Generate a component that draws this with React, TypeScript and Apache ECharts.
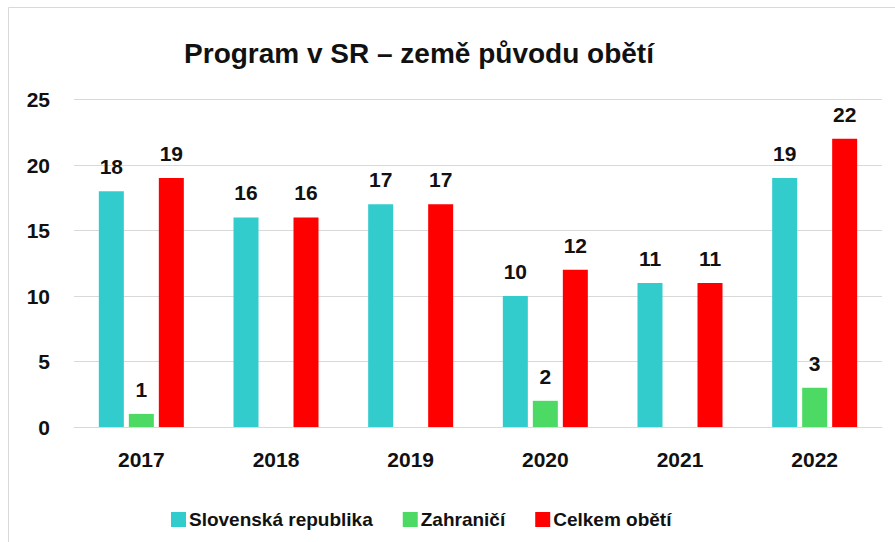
import React, { useEffect, useRef } from "react";
import * as echarts from "echarts";

const categories = ["2017", "2018", "2019", "2020", "2021", "2022"];
const slovenska = [18, 16, 17, 10, 11, 19];
const zahranici = [1, 0, 0, 2, 0, 3];
const celkem = [19, 16, 17, 12, 11, 22];
const seriesNames = ["Slovenská republika", "Zahraničí", "Celkem obětí"];
const colors = ["#33CCCC", "#4CD964", "#FF0000"];
const titleText = "Program v SR – země původu obětí";

const FONT = "'Liberation Sans', Arial, sans-serif";

export default function App() {
  const ref = useRef<HTMLDivElement>(null);
  useEffect(() => {
    if (!ref.current) return;
    const chart = echarts.init(ref.current, null, { renderer: "svg" });
    const label = {
      show: true,
      position: "top",
      distance: 14,
      fontFamily: FONT,
      fontWeight: "bold",
      fontSize: 21,
      color: "#111",
      formatter: (p: any) => (p.value === 0 ? "" : String(p.value)),
    };
    const datasets = [slovenska, zahranici, celkem];
    chart.setOption({
      animation: false,
      backgroundColor: "#fff",
      textStyle: { fontFamily: FONT },
      graphic: [
        {
          type: "rect",
          shape: { x: 8.5, y: 7.5, width: 1000, height: 1000 },
          style: { fill: "none", stroke: "#d9d9d9", lineWidth: 1 },
          silent: true,
        },
        {
          type: "text",
          x: 419,
          y: 53,
          style: {
            text: titleText,
            fontFamily: FONT,
            fontWeight: "bold",
            fontSize: 28,
            fill: "#111",
            align: "center",
            verticalAlign: "middle",
          },
        },
      ],
      legend: {
        left: 166,
        top: 505,
        itemWidth: 15,
        itemHeight: 15,
        itemGap: 30,
        icon: "rect",
        textStyle: {
          fontFamily: FONT,
          fontWeight: "bold",
          fontSize: 19,
          color: "#111",
          padding: [0, 0, 0, -2],
        },
        data: seriesNames,
      },
      grid: { left: 74, right: 13, top: 99.5, bottom: 115, containLabel: false },
      xAxis: {
        type: "category",
        data: categories,
        axisTick: { show: false },
        axisLine: { lineStyle: { color: "#d9d9d9", width: 1 } },
        axisLabel: {
          margin: 22,
          fontFamily: FONT,
          fontWeight: "bold",
          fontSize: 21,
          color: "#111",
        },
      },
      yAxis: {
        type: "value",
        min: 0,
        max: 25,
        interval: 5,
        axisLine: { show: false },
        axisTick: { show: false },
        splitLine: { lineStyle: { color: "#d9d9d9", width: 1 } },
        axisLabel: {
          margin: 24,
          fontFamily: FONT,
          fontWeight: "bold",
          fontSize: 21,
          color: "#111",
        },
      },
      series: datasets.map((d, i) => ({
        name: seriesNames[i],
        type: "bar",
        data: d,
        barWidth: 25,
        barGap: "20%",
        itemStyle: { color: colors[i] },
        label,
      })),
    });
    return () => chart.dispose();
  }, []);
  return (
    <div
      ref={ref}
      style={{ position: "absolute", left: 0, top: 0, width: 895, height: 542 }}
    />
  );
}
